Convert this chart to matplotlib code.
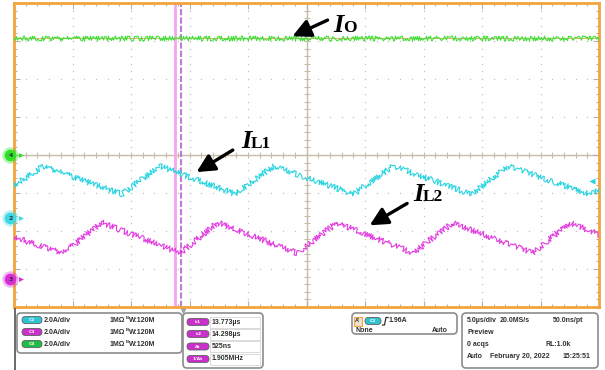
import numpy as np
import matplotlib
matplotlib.use('Agg')
import matplotlib.pyplot as plt
from matplotlib.patches import FancyBboxPatch, Rectangle
from matplotlib.transforms import offset_copy

# scope settings: 5 us/div over 10 div, 2 A/div over 8 div
t_span = 50.0
a_span = 8.0

# traces (time in us, current in A)
io_t = [0.0, 50.0]
io_a = [6.15, 6.15]

il1_t = [0.0, 2.5, 9.2, 12.5, 18.9, 22.2, 29.0, 32.4, 39.1, 42.2, 49.2, 50.0]
il1_a = [1.7, 2.74, 1.26, 2.74, 1.26, 2.74, 1.26, 2.74, 1.26, 2.74, 1.26, 1.45]

il2_t = [0.0, 4.2, 7.5, 14.2, 17.4, 24.2, 27.6, 34.1, 37.5, 44.3, 47.5, 50.0]
il2_a = [2.2, 1.37, 2.97, 1.37, 2.97, 1.37, 2.97, 1.37, 2.97, 1.37, 2.97, 2.35]

# channel ground offsets (A on screen)
off_c4 = 0.0
off_c2 = -3.32
off_c3 = -6.53

cursor_t = [13.773, 14.298]
trig_level = 1.96

green = '#3fe03a'
cyan = '#28d4e0'
magenta = '#e23ce0'
orange = '#f4a43c'

W, H = 605, 370
fig = plt.figure(figsize=(W / 100, H / 100), dpi=100)
fig.patch.set_facecolor('white')

ax = fig.add_axes([14 / W, (H - 307) / H, 585 / W, 304 / H])
ax.set_xlim(0, t_span)
ax.set_ylim(-a_span, a_span)
for s in ax.spines.values():
    s.set_color(orange)
    s.set_linewidth(2)
ax.set_xticks(np.arange(0, t_span + 0.1, 5))
ax.set_yticks(np.arange(-a_span, a_span + 0.1, 2))
ax.set_xticks(np.arange(0, t_span + 0.1, 1), minor=True)
ax.set_yticks(np.arange(-a_span, a_span + 0.1, 0.4), minor=True)
ax.tick_params(which='both', direction='in', top=True, right=True,
               labelbottom=False, labelleft=False, color='#b8b0a0', width=0.8)
ax.tick_params(which='major', length=4)
ax.tick_params(which='minor', length=2.5)

# dotted graticule
xm = np.arange(0, t_span + 0.1, 1)
ym = np.arange(-a_span, a_span + 0.1, 0.4)
for gx in np.arange(5, t_span, 5):
    if gx != 25:
        ax.plot(np.full_like(ym, gx), ym, ls='none', marker='s', ms=0.9,
                mec='none', mfc='#c4c4c4', zorder=1)
for gy in np.arange(-6, 7, 2):
    if gy != 0:
        ax.plot(xm, np.full_like(xm, gy), ls='none', marker='s', ms=0.9,
                mec='none', mfc='#c4c4c4', zorder=1)
# centre cross with ticks
cc = '#c4bca6'
ax.axhline(0, color=cc, lw=1, zorder=1)
ax.axvline(25, color=cc, lw=1, zorder=1)
ax.plot(xm, np.zeros_like(xm), ls='none', marker='|', ms=4, mew=0.8, color=cc, zorder=1)
ax.plot(np.full_like(ym, 25), ym, ls='none', marker='_', ms=4, mew=0.8, color=cc, zorder=1)

# cursors
ax.axvline(cursor_t[0], color='#f4a6f0', lw=2, zorder=2)
ax.axvline(cursor_t[1], color='#c27ad8', lw=1.5, ls=(0, (3, 1)), zorder=2)

# thin orange level line under the output current trace
ax.axhline(io_a[0] + off_c4, color='#f0b060', lw=0.7, zorder=2)

# traces (sketch effect stands in for the scope noise)
for tt, aa, off, col, sc in [(io_t, io_a, off_c4, green, 2.4),
                             (il1_t, il1_a, off_c2, cyan, 2.8),
                             (il2_t, il2_a, off_c3, magenta, 2.8)]:
    ln, = ax.plot(tt, np.array(aa) + off, color=col, lw=0.8, zorder=3)
    ln.set_sketch_params(scale=sc, length=0.9, randomness=3)

# channel markers on left edge
for off, col, lab in [(off_c4, '#2ee02a', '4'), (off_c2, '#3cd8e4', '2'), (off_c3, '#d82cd8', '3')]:
    ax.scatter([-0.3], [off], s=140, color=col, alpha=0.35, lw=0, clip_on=False, zorder=5)
    ax.scatter([-0.3], [off], s=70, color=col, lw=0, clip_on=False, zorder=6)
    ax.text(-0.3, off, lab, fontsize=4.5, fontweight='bold', color='#333333',
            ha='center', va='center', clip_on=False, zorder=7)
    ax.plot([0.6], [off], marker='>', ms=3.5, color=col, mec='none', clip_on=False, zorder=6)

# trigger level marker on right edge
ax.plot([49.4], [trig_level + off_c2], marker='<', ms=4, color=cyan, mec='none', clip_on=False, zorder=6)

# labels with arrows
def label(x, y, sub, tail, tip):
    ax.annotate('', xy=tip, xytext=tail,
                arrowprops=dict(arrowstyle='-|>,head_length=0.9,head_width=0.45',
                                lw=2.4, color='black', mutation_scale=12,
                                shrinkA=0, shrinkB=0), zorder=8)
    ax.text(x, y, 'I', family='Liberation Serif', style='italic', fontweight='bold',
            fontsize=19, ha='left', va='baseline', zorder=8)
    tr = offset_copy(ax.transData, fig=fig, x=9.5, y=0, units='dots')
    ax.text(x, y, sub, family='Liberation Serif', fontweight='bold',
            fontsize=12.5, ha='left', va='baseline', transform=tr, zorder=8)

label(27.3, 6.45, 'O', (26.8, 7.1), (23.8, 6.25))
label(19.4, 0.35, 'L1', (18.7, 0.26), (15.6, -0.9))
label(34.1, -2.4, 'L2', (33.6, -2.55), (30.4, -3.7))

# ---- status panel below the screen (pixel coordinates) ----
ov = fig.add_axes([0, 0, 1, 1])
ov.set_xlim(0, W)
ov.set_ylim(H, 0)
ov.axis('off')

ov.plot([15, 15], [309, 370], color='#505050', lw=1.2)
ov.plot([183], [311], marker='v', ms=4, color='#a0a0a0', mec='none')

def box(x, y, w, h, ec='#8c8c8c', fc='none', r=4, lw=1.2):
    ov.add_patch(FancyBboxPatch((x, y), w, h, boxstyle=f'round,pad=0,rounding_size={r}',
                                ec=ec, fc=fc, lw=lw))

def pill(x, y, w, col, lab):
    box(x, y - 3.5, w, 7, ec='#606060', fc=col, r=3.5, lw=0.6)
    ov.text(x + w / 2, y, lab, fontsize=3.2, color='white', fontweight='bold',
            ha='center', va='center')

def txt(x, y, s, size=5.0, **kw):
    ov.text(x, y, s, fontsize=size, color='#303030', fontweight='bold',
            family='Liberation Sans', ha='left', va='center', **kw)

# channel settings box
box(17, 313, 165, 40)
for y, col, lab in [(320, '#30c4d0', 'C2'), (332, '#cc30cc', 'C3'), (344, '#22bb44', 'C4')]:
    pill(22, y, 20, col, lab)
    txt(44, y, '2.0A/div')
    txt(110, y, '1M\u03a9')
    ov.text(126, y - 1.8, 'B', fontsize=3.2, color='#303030', fontweight='bold',
            family='Liberation Sans', ha='left', va='center')
    txt(128.5, y + 0.6, 'W:120M')

# cursor readout box
box(183, 313, 80, 55)
for y, lab, val in [(322, 't1', '13.773\u00b5s'), (334, 't2', '14.298\u00b5s'),
                    (346.5, '\u0394t', '525ns'), (359, '1/\u0394t', '1.905MHz')]:
    ov.add_patch(Rectangle((210, y - 5.5), 50, 11, ec='#d4d4d4', fc='none', lw=0.6))
    pill(187, y, 22, '#cc30cc', lab)
    txt(212, y, val)

# trigger box
box(352, 313, 105, 21)
ov.add_patch(Rectangle((354, 316.5), 8, 9, ec=orange, fc='#efe3d0', lw=0.8))
ov.text(358, 321, "A'", fontsize=4.0, fontweight='bold', color='#303030',
        family='Liberation Sans', ha='center', va='center')
pill(365, 321, 16, '#30c4d0', 'C2')
ov.plot([382.5, 384.5, 386, 388], [325, 325, 317.5, 317.5], color='#303030', lw=0.9)
txt(389, 321, '1.96A')
txt(355, 330.5, 'None')
txt(432, 330.5, 'Auto')

# timebase box
box(462, 313, 136, 55)
txt(467, 321, '5.0\u00b5s/div')
txt(500, 321, '20.0MS/s')
txt(553, 321, '50.0ns/pt')
txt(467, 333, 'Preview')
txt(467, 344.5, '0 acqs')
txt(545, 344.5, 'RL:1.0k')
txt(467, 356, 'Auto')
txt(490, 356, 'February 20, 2022')
txt(563, 356, '15:25:51')

fig.savefig('out.png', dpi=100)
